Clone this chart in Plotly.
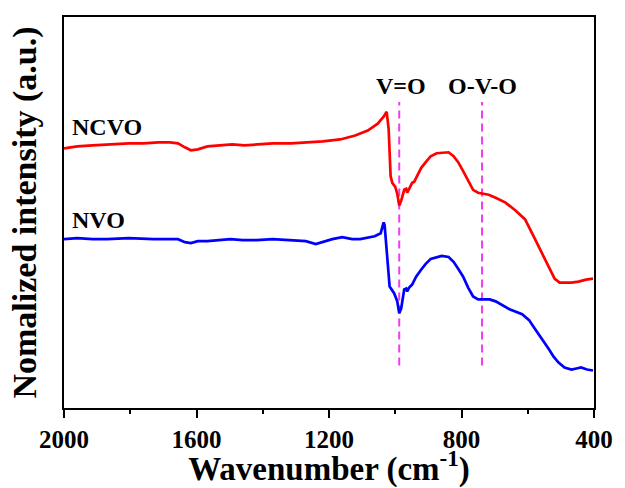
import plotly.graph_objects as go

# NCVO spectrum (wavenumber cm-1, normalized intensity a.u.)
ncvo_wn = [2000, 1960, 1914, 1870, 1804, 1760, 1715, 1680, 1656, 1635, 1617, 1596, 1567, 1530,
           1492, 1455, 1418, 1370, 1314, 1270, 1219, 1166,
           1121, 1083, 1053, 1035, 1026, 1020, 1017, 1014, 1009, 1000, 994, 988, 982, 973, 967,
           964, 958, 949, 943, 934, 922, 908, 893, 875, 854, 839, 824, 810, 795, 780, 765, 750,
           735, 718, 697, 667, 637, 608, 578, 548, 519, 504, 489, 468, 447, 424, 403]
ncvo_int = [263, 265, 266, 267, 268, 268, 269, 269, 268, 264, 261, 262, 265, 266,
            267, 266, 267, 268, 268, 269, 270, 272,
            276, 281, 288, 295, 300, 283, 253, 235, 228, 224, 217, 205, 210, 221, 222,
            218, 222, 228, 229, 235, 243, 249, 255, 258, 259, 259, 255, 249, 240, 230, 221, 218,
            217, 216, 213, 208, 200, 191, 171, 150, 131, 127, 127, 127, 128, 130, 131]

# NVO spectrum
nvo_wn = [2000, 1960, 1914, 1870, 1804, 1730, 1656, 1635, 1617, 1596, 1567, 1498, 1460, 1418,
          1370, 1320, 1270, 1240, 1210,
          1190, 1160, 1130, 1106, 1062, 1044, 1035, 1032, 1026, 1020, 1017, 1003, 994, 988, 982,
          973, 967, 964, 958, 949, 937, 922, 908, 893, 875, 860, 839, 824, 810, 795, 780, 765,
          750, 735, 715, 697, 676, 655, 617, 596, 578, 557, 537, 522, 507, 489, 468, 453, 439,
          421, 403]
nvo_int = [171, 172, 171, 171, 172, 171, 171, 168, 167, 169, 169, 171, 170, 170,
           171, 170, 169, 166, 169,
           171, 173, 171, 171, 174, 177, 188, 185, 160, 138, 123, 116, 108, 96, 101,
           120, 121, 118, 122, 125, 133, 140, 146, 151, 153, 154, 153, 148, 141, 133, 122, 113,
           110, 110, 110, 108, 104, 100, 95, 89, 80, 70, 60, 52, 46, 41, 39, 40, 41,
           39, 38]

# Band markers
band_pos = [988, 738]
band_label_pos = [982, 738]
band_labels = ["V=O", "O-V-O"]
band_span = [43, 310]

series_labels = ["NCVO", "NVO"]
series_label_y = [285, 190]

x_ticks = [2000, 1600, 1200, 800, 400]
x_minor = [1800, 1400, 1000, 600]

FONT = "Liberation Serif"

fig = go.Figure()
for bp in band_pos:
    fig.add_trace(go.Scatter(x=[bp, bp], y=band_span, mode="lines",
                             line=dict(color="#F03CF0", width=2, dash="8px,5px"),
                             showlegend=False, hoverinfo="skip"))
fig.add_trace(go.Scatter(x=ncvo_wn, y=ncvo_int, mode="lines",
                         line=dict(color="#FF0000", width=2.7), showlegend=False))
fig.add_trace(go.Scatter(x=nvo_wn, y=nvo_int, mode="lines",
                         line=dict(color="#0000FF", width=2.7), showlegend=False))

for bp, lab in zip(band_label_pos, band_labels):
    fig.add_annotation(x=bp, y=326, text="<b>%s</b>" % lab, showarrow=False,
                       font=dict(family=FONT, size=24, color="black"))
for lab, yy in zip(series_labels, series_label_y):
    fig.add_annotation(x=1982, y=yy, text="<b>%s</b>" % lab, showarrow=False,
                       xanchor="left", font=dict(family=FONT, size=24, color="black"))

fig.update_layout(
    width=625, height=488,
    margin=dict(l=64, r=22, t=17, b=75),
    paper_bgcolor="white", plot_bgcolor="white",
    font=dict(family=FONT, color="black"),
)
fig.update_xaxes(
    range=[2000, 400], tickvals=x_ticks, ticktext=["<b>%d</b>" % t for t in x_ticks],
    ticks="outside", ticklen=8, tickwidth=1.5, tickcolor="black",
    minor=dict(tickvals=x_minor, ticks="outside", ticklen=4,
               tickwidth=1.5, tickcolor="black"),
    showline=True, linecolor="black", linewidth=1.5, mirror=True,
    showgrid=False, zeroline=False,
    tickfont=dict(family=FONT, size=25, color="black"),
    title=dict(text="<b>Wavenumber (cm<sup>-1</sup>)</b>",
               font=dict(family=FONT, size=33, color="black"), standoff=0),
)
fig.update_yaxes(
    range=[0, 396], showticklabels=False, ticks="",
    showline=True, linecolor="black", linewidth=1.5, mirror=True,
    showgrid=False, zeroline=False,
    title=dict(text="<b>Nomalized intensity (a.u.)</b>",
               font=dict(family=FONT, size=34, color="black"), standoff=15),
)

fig.write_html("out.html")
